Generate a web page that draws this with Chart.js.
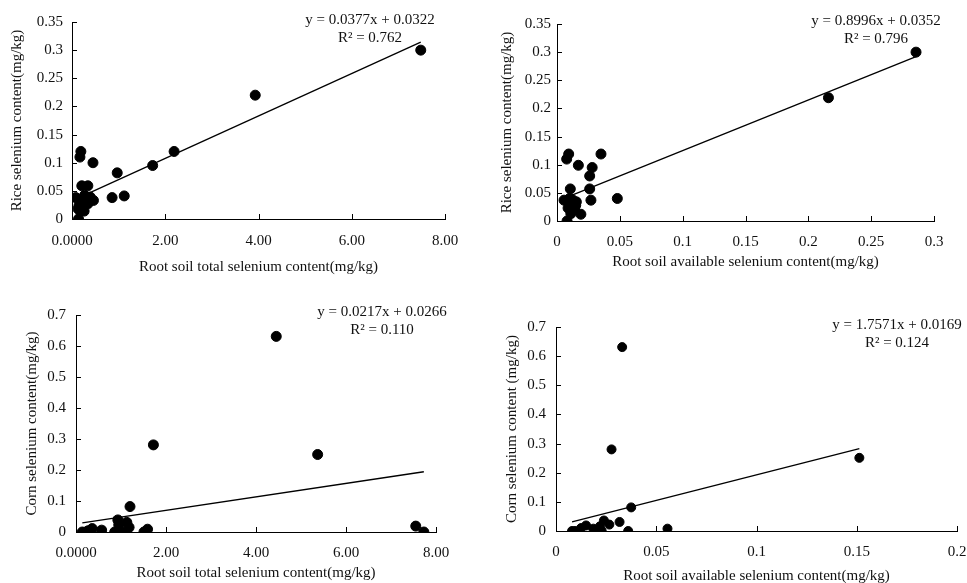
<!DOCTYPE html>
<html>
<head>
<meta charset="utf-8">
<script src="https://cdn.jsdelivr.net/npm/chart.js@4"></script>
<style>
  html, body { margin: 0; padding: 0; background: #fff; overflow: hidden; }
  body { width: 967px; height: 583px; position: relative; }
  canvas { position: absolute; }
</style>
</head>
<body>
<canvas id="c1" width="480" height="290" style="left:0;top:0"></canvas>
<canvas id="c2" width="487" height="290" style="left:480px;top:0"></canvas>
<canvas id="c3" width="480" height="300" style="left:0;top:290px"></canvas>
<canvas id="c4" width="500" height="300" style="left:480px;top:290px"></canvas>
<script>
// rice: total soil Se vs rice Se
const riceTotalSe = [7.48, 3.93, 2.19, 1.73, 0.97, 0.86, 1.12, 0.45, 0.19, 0.17, 0.21, 0.34, 0.08, 0.14, 0.15, 0.18, 0.26, 0.27, 0.34, 0.39, 0.46, 0.24, 0.20, 0.31, 0.13, 0.24];
const riceSeA = [0.30, 0.22, 0.12, 0.095, 0.082, 0.038, 0.041, 0.10, 0.12, 0.11, 0.059, 0.059, 0.038, 0.0, 0.024, 0.014, 0.014, 0.042, 0.027, 0.039, 0.033, 0.033, 0.021, 0.036, 0.018, 0.027];

// rice: available soil Se vs rice Se
const riceAvailSe = [0.2857, 0.216, 0.035, 0.028, 0.026, 0.017, 0.0093, 0.0077, 0.0106, 0.026, 0.027, 0.048, 0.019, 0.0056, 0.008, 0.0088, 0.011, 0.0127, 0.0154, 0.014, 0.0114, 0.0149, 0.010, 0.0122];
const riceSeB = [0.30, 0.219, 0.119, 0.095, 0.080, 0.099, 0.119, 0.11, 0.057, 0.057, 0.037, 0.040, 0.012, 0.037, 0.0, 0.023, 0.013, 0.037, 0.034, 0.022, 0.031, 0.028, 0.040, 0.018];

// corn: total soil Se vs corn Se
const cornTotalSe = [4.45, 1.72, 5.37, 1.20, 7.55, 7.73, 0.93, 0.95, 1.13, 1.18, 0.86, 1.03, 0.57, 0.36, 0.14, 0.22, 0.27, 1.51, 1.59];
const cornSeA = [0.631, 0.281, 0.25, 0.082, 0.019, 0.0, 0.039, 0.023, 0.031, 0.015, 0.0, 0.0, 0.006, 0.011, 0.0, 0.0, 0.004, 0.0, 0.009];

// corn: available soil Se vs corn Se
const cornAvailSe = [0.033, 0.0277, 0.1513, 0.0375, 0.0556, 0.036, 0.0317, 0.0239, 0.0266, 0.0219, 0.0186, 0.0194, 0.0228, 0.015, 0.0125, 0.0116, 0.0095, 0.008];
const cornSeB = [0.631, 0.28, 0.251, 0.081, 0.008, 0.0, 0.031, 0.036, 0.022, 0.016, 0.008, 0.0, 0.0, 0.019, 0.01, 0.0, 0.0, 0.0];

// fitted trend lines (panel 1..4)
const slopes = [0.0377, 0.8996, 0.0217, 1.7571];
const intercepts = [0.0322, 0.0352, 0.0266, 0.0169];
const rSquared = ["0.762", "0.796", "0.110", "0.124"];

// tick labels
const xTicksTotal = ["0.0000", "2.00", "4.00", "6.00", "8.00"];
const xTicksRiceAvail = ["0", "0.05", "0.1", "0.15", "0.2", "0.25", "0.3"];
const xTicksCornAvail = ["0", "0.05", "0.1", "0.15", "0.2"];
const yTicksRice = ["0", "0.05", "0.1", "0.15", "0.2", "0.25", "0.3", "0.35"];
const yTicksCorn = ["0", "0.1", "0.2", "0.3", "0.4", "0.5", "0.6", "0.7"];

const FONT = "'Liberation Serif', 'Times New Roman', serif";
const INK = "#111";

// small inward tick marks, like the Excel original
const innerTicks = {
    id: "innerTicks",
    afterDraw(chart) {
        const ctx = chart.ctx;
        const a = chart.chartArea;
        ctx.save();
        ctx.strokeStyle = "#000";
        ctx.lineWidth = 1;
        ctx.beginPath();
        chart.scales.x.ticks.forEach(t => {
            const px = Math.round(chart.scales.x.getPixelForValue(t.value)) + 0.5;
            ctx.moveTo(px, a.bottom);
            ctx.lineTo(px, a.bottom - 5);
        });
        chart.scales.y.ticks.forEach(t => {
            const py = Math.round(chart.scales.y.getPixelForValue(t.value)) + 0.5;
            ctx.moveTo(a.left, py);
            ctx.lineTo(a.left + 5, py);
        });
        ctx.stroke();
        ctx.restore();
    }
};

const equationLabel = {
    id: "equationLabel",
    afterDraw(chart, args, opts) {
        const ctx = chart.ctx;
        ctx.save();
        ctx.font = "15px " + FONT;
        ctx.fillStyle = INK;
        ctx.textAlign = "center";
        ctx.textBaseline = "middle";
        ctx.fillText(opts.eq, opts.x, opts.y);
        ctx.fillText(opts.r2, opts.x, opts.y + 18);
        ctx.restore();
    }
};

function makePanel(p) {
    const pts = p.xs.map((x, i) => ({ x: x, y: p.ys[i] }));
    const lo = Math.min(...p.xs);
    const hi = Math.max(...p.xs);
    const k = p.idx;
    const trend = [lo, hi].map(x => ({ x: x, y: slopes[k] * x + intercepts[k] }));

    new Chart(document.getElementById(p.canvas), {
        type: "scatter",
        data: {
            datasets: [
                {
                    data: trend,
                    showLine: true,
                    borderColor: "#000",
                    borderWidth: 1.3,
                    pointRadius: 0
                },
                {
                    data: pts,
                    backgroundColor: "#000",
                    borderColor: "#000",
                    pointRadius: p.r,
                    pointHoverRadius: p.r
                }
            ]
        },
        options: {
            responsive: false,
            animation: false,
            events: [],
            layout: { padding: p.pad },
            plugins: {
                legend: { display: false },
                tooltip: { enabled: false },
                equationLabel: {
                    eq: `y = ${slopes[k].toFixed(4)}x + ${intercepts[k].toFixed(4)}`,
                    r2: `R² = ${rSquared[k]}`,
                    x: p.eqX,
                    y: p.eqY
                }
            },
            scales: {
                x: {
                    type: "linear",
                    min: 0,
                    max: p.xMax,
                    afterBuildTicks: s => { s.ticks = p.xLabels.map((_, i) => ({ value: i * p.xStep })); },
                    ticks: {
                        autoSkip: false,
                        maxRotation: 0,
                        padding: p.xPad,
                        color: INK,
                        font: { family: FONT, size: 15 },
                        callback: (v, i) => p.xLabels[i]
                    },
                    grid: { drawOnChartArea: false, drawTicks: false },
                    border: { color: "#000", width: 1 },
                    title: { display: true, text: p.xTitle, color: INK, padding: 0, font: { family: FONT, size: 15 } },
                    afterFit: s => { s.height = p.xH; }
                },
                y: {
                    type: "linear",
                    min: 0,
                    max: p.yMax,
                    afterBuildTicks: s => { s.ticks = p.yLabels.map((_, i) => ({ value: i * p.yStep })); },
                    ticks: {
                        autoSkip: false,
                        padding: p.yPad,
                        color: INK,
                        font: { family: FONT, size: 15 },
                        callback: (v, i) => p.yLabels[i]
                    },
                    grid: { drawOnChartArea: false, drawTicks: false },
                    border: { color: "#000", width: 1 },
                    title: { display: true, text: p.yTitle, color: INK, padding: 0, font: { family: FONT, size: 15 } },
                    afterFit: s => { s.width = p.yW; }
                }
            }
        },
        plugins: [innerTicks, equationLabel]
    });
}

makePanel({
    canvas: "c1", idx: 0, xs: riceTotalSe, ys: riceSeA, r: 5,
    xMax: 8, xStep: 2, xLabels: xTicksTotal, yMax: 0.35, yStep: 0.05, yLabels: yTicksRice,
    xTitle: "Root soil total selenium content(mg/kg)", yTitle: "Rice selenium content(mg/kg)",
    pad: { left: 8, right: 35, top: 22, bottom: 14 }, yW: 64, xH: 57, xPad: 13, yPad: 9,
    eqX: 370, eqY: 20
});

makePanel({
    canvas: "c2", idx: 1, xs: riceAvailSe, ys: riceSeB, r: 5,
    xMax: 0.3, xStep: 0.05, xLabels: xTicksRiceAvail, yMax: 0.35, yStep: 0.05, yLabels: yTicksRice,
    xTitle: "Root soil available selenium content(mg/kg)", yTitle: "Rice selenium content(mg/kg)",
    pad: { left: 18, right: 33, top: 24, bottom: 19 }, yW: 59, xH: 50, xPad: 12, yPad: 6,
    eqX: 396, eqY: 21
});

makePanel({
    canvas: "c3", idx: 2, xs: cornTotalSe, ys: cornSeA, r: 5,
    xMax: 8, xStep: 2, xLabels: xTicksTotal, yMax: 0.7, yStep: 0.1, yLabels: yTicksCorn,
    xTitle: "Root soil total selenium content(mg/kg)", yTitle: "Corn selenium content(mg/kg)",
    pad: { left: 23, right: 44, top: 25, bottom: 8 }, yW: 53, xH: 50, xPad: 12, yPad: 10,
    eqX: 382, eqY: 22
});

makePanel({
    canvas: "c4", idx: 3, xs: cornAvailSe, ys: cornSeB, r: 4.5,
    xMax: 0.2, xStep: 0.05, xLabels: xTicksCornAvail, yMax: 0.7, yStep: 0.1, yLabels: yTicksCorn,
    xTitle: "Root soil available selenium content(mg/kg)", yTitle: "Corn selenium content (mg/kg)",
    pad: { left: 23, right: 23, top: 37, bottom: 5 }, yW: 53, xH: 54, xPad: 12, yPad: 10,
    eqX: 417, eqY: 35
});
</script>
</body>
</html>
